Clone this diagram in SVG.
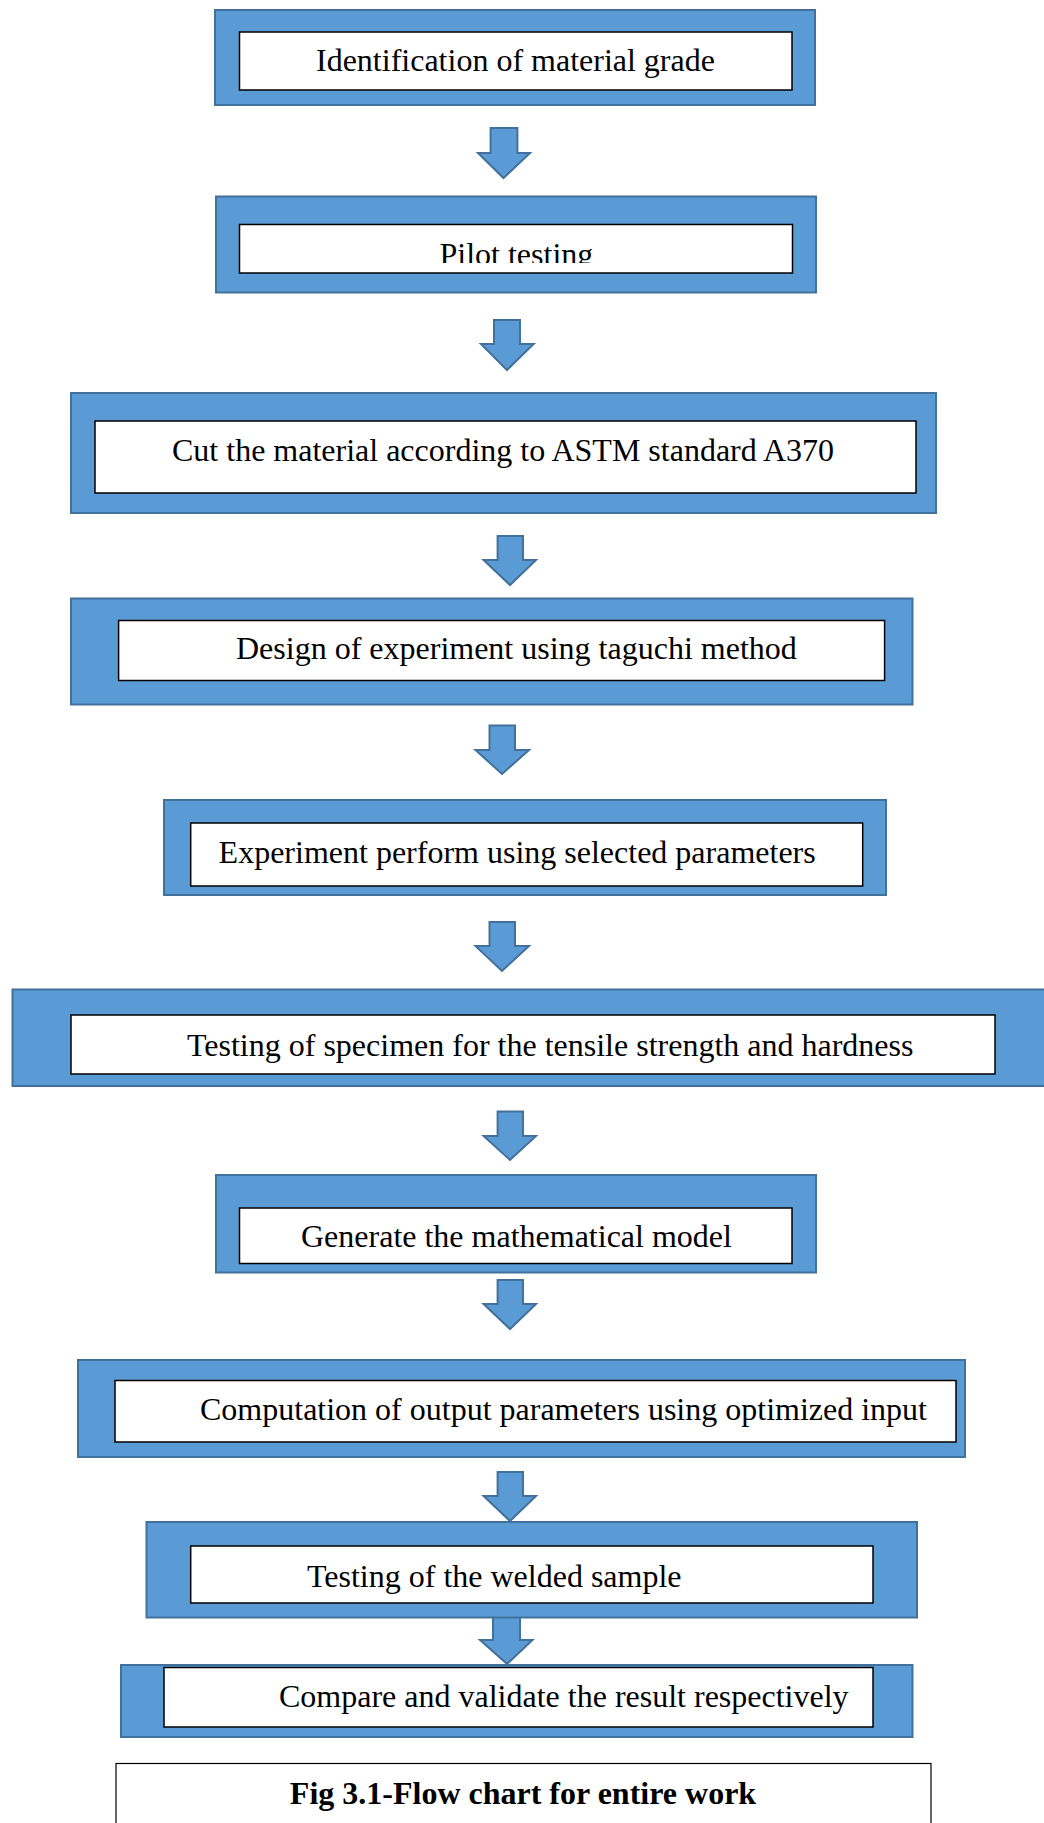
<svg xmlns="http://www.w3.org/2000/svg" width="1044" height="1823" viewBox="0 0 1044 1823">
<style>
.outer{fill:#5B9BD5;stroke:#41719C;stroke-width:2}
.inner{fill:#FFFFFF;stroke:#000000;stroke-width:1.5}
.arr{fill:#5B9BD5;stroke:#41719C;stroke-width:2;stroke-linejoin:miter}
.t{font-family:"Liberation Serif","Times New Roman",serif;font-size:32px;fill:#000}
.cap{font-family:"Liberation Serif","Times New Roman",serif;font-size:32px;font-weight:bold;fill:#000}
</style>
<defs>
<clipPath id="clipPilot"><rect x="240" y="224" width="552" height="39"/></clipPath>
</defs>
<rect width="1044" height="1823" fill="#FFFFFF"/>
<g id="connectors">
<path class="arr" d="M490.6,128 H517.4 V153 H530 L503.5,178 L478,153 H490.6 Z"/>
<path class="arr" d="M494,320 H520 V344 H533.6 L507,370 L481,344 H494 Z"/>
<path class="arr" d="M497.6,536 H523 V560 H536 L510,585 L483.6,560 H497.6 Z"/>
<path class="arr" d="M489.5,725.5 H515 V750 H529 L502,774 L475.5,750 H489.5 Z"/>
<path class="arr" d="M489.5,922 H515 V946 H529 L502,971 L475.5,946 H489.5 Z"/>
<path class="arr" d="M497.6,1111.5 H523 V1136 H536 L510,1160 L483.6,1136 H497.6 Z"/>
<path class="arr" d="M497.6,1280 H523 V1304 H536 L510,1329 L483.6,1304 H497.6 Z"/>
<path class="arr" d="M497.6,1472 H523 V1496 H536 L510,1521 L483.6,1496 H497.6 Z"/>
<path class="arr" d="M493,1616 H520 V1640 H532.5 L507,1664 L480,1640 H493 Z"/>
</g>
<g id="n1">
<rect class="outer" x="215" y="10" width="600" height="95"/>
<rect class="inner" x="239.5" y="32" width="552.5" height="58"/>
<text class="t" x="316" y="71">Identification of material grade</text>
</g>
<g id="n2">
<rect class="outer" x="216" y="196.5" width="600" height="96"/>
<rect class="inner" x="239.5" y="224.5" width="553" height="48.5"/>
<text class="t" x="439.5" y="265" clip-path="url(#clipPilot)">Pilot testing</text>
</g>
<g id="n3">
<rect class="outer" x="71" y="393" width="865" height="120"/>
<rect class="inner" x="95" y="421" width="821" height="72"/>
<text class="t" x="172" y="460.5">Cut the material according to ASTM standard A370</text>
</g>
<g id="n4">
<rect class="outer" x="71" y="598.5" width="841.5" height="106"/>
<rect class="inner" x="118.6" y="620.5" width="766" height="60"/>
<text class="t" x="236" y="659">Design of experiment using taguchi method</text>
</g>
<g id="n5">
<rect class="outer" x="164" y="800" width="722" height="95"/>
<rect class="inner" x="190.7" y="823" width="672" height="63"/>
<text class="t" x="218.6" y="862.5">Experiment perform using selected parameters</text>
</g>
<g id="n6">
<rect class="outer" x="12.5" y="989.5" width="1040" height="96.5"/>
<rect class="inner" x="71" y="1015" width="924" height="59"/>
<text class="t" x="187" y="1055.5">Testing of specimen for the tensile strength and hardness</text>
</g>
<g id="n7">
<rect class="outer" x="216" y="1175" width="600" height="97.5"/>
<rect class="inner" x="239.5" y="1208" width="552.5" height="55.5"/>
<text class="t" x="301" y="1247">Generate the mathematical model</text>
</g>
<g id="n8">
<rect class="outer" x="78" y="1360" width="887" height="97"/>
<rect class="inner" x="115" y="1380.5" width="841" height="61.5"/>
<text class="t" x="200" y="1420">Computation of output parameters using optimized input</text>
</g>
<g id="n9">
<rect class="outer" x="146.5" y="1522" width="770.5" height="95.5"/>
<rect class="inner" x="190.7" y="1546" width="682.3" height="57"/>
<text class="t" x="307" y="1587">Testing of the welded sample</text>
</g>
<g id="n10">
<rect class="outer" x="121" y="1665" width="791.5" height="72"/>
<rect class="inner" x="164" y="1667.5" width="709" height="59.5"/>
<text class="t" x="279" y="1707">Compare and validate the result respectively</text>
</g>
<g id="caption">
<rect x="116" y="1763.5" width="815" height="70" fill="#FFFFFF" stroke="#000000" stroke-width="1.2"/>
<text class="cap" x="523" y="1803.5" text-anchor="middle">Fig 3.1-Flow chart for entire work</text>
</g>
</svg>
